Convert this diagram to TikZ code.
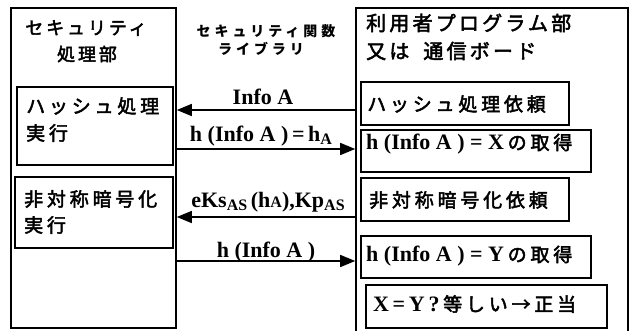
\documentclass[tikz,border=0pt]{standalone}
\usepackage{fontspec}
\setmainfont{Liberation Serif}
\newfontfamily\jp[LetterSpace=20,FakeBold=2.5]{Noto Sans CJK JP}
\newfontfamily\jph[LetterSpace=16,FakeBold=2.5]{Noto Sans CJK JP}
\newfontfamily\jps[LetterSpace=28]{Noto Sans CJK JP}
\usetikzlibrary{arrows.meta}
\newcommand\subs[1]{\raisebox{-0.35ex}{\fontsize{16}{16}\selectfont #1}}
\newcommand\jtail[1]{{\mdseries\jp\fontsize{19}{19}\selectfont #1}}
\begin{document}
\begin{tikzpicture}[x=1pt,y=-1pt,
  bigbox/.style={draw, line width=1.6pt, inner sep=0pt},
  box/.style={draw, line width=1.6pt, inner sep=0pt},
  jtxt/.style={inner sep=0pt, anchor=west, font=\jp\fontsize{19}{19}\selectfont},
  lat/.style={inner sep=0pt, anchor=west, font=\bfseries\fontsize{22}{22}\selectfont},
  lbl/.style={inner sep=0pt, font=\bfseries\fontsize{22}{22}\selectfont},
  hdr/.style={inner sep=0pt, font=\jph\fontsize{18}{18}\selectfont},
  hdrs/.style={inner sep=0pt, font=\jps\bfseries\fontsize{14}{14}\selectfont},
  hdrr/.style={inner sep=0pt, anchor=west, font=\jph\fontsize{20}{20}\selectfont},
  msg/.style={line width=1.5pt, -{Triangle[length=15pt,width=12pt]}}]
\useasboundingbox (0,0) rectangle (631,331);
% big boxes
\node[bigbox, minimum width=165pt, minimum height=320pt] (L) at (93.5,168) {};
\node[bigbox, minimum width=272pt, minimum height=340pt] (R) at (492,178) {};
% headers
\node[hdr] (hl1) at (86,28) {セキュリティ};
\node[hdr] (hl2) at (87,54) {処理部};
\node[hdrs] (hc1) at (266,31) {セキュリティ関数};
\node[hdrs] (hc2) at (261,49) {ライブラリ};
\node[hdrr] (hr1) at (366,23) {利用者プログラム部};
\node[hdrr] (hr2) at (366,51) {又は\kern14pt 通信ボード};
% left inner boxes
\node[box, minimum width=156pt, minimum height=78pt] (LH) at (95,126) {};
\node[jtxt] (LHt1) at (26,106) {ハッシュ処理};
\node[jtxt] (LHt2) at (26,133) {実行};
\node[box, minimum width=158pt, minimum height=71pt] (LA) at (94,212.5) {};
\node[jtxt] (LAt1) at (24,199) {非対称暗号化};
\node[jtxt] (LAt2) at (24,225) {実行};
% right inner boxes
\node[box, minimum width=208pt, minimum height=43pt] (R1) at (465,103.5) {};
\node[jtxt] (R1t) at (367,104) {ハッシュ処理依頼};
\node[box, minimum width=230pt, minimum height=42pt] (R2) at (476,151) {};
\node[lat] (R2t) at (366,144) {h (Info A ) = X\,\jtail{の取得}};
\node[box, minimum width=208pt, minimum height=43pt] (R3) at (465,199.5) {};
\node[jtxt] (R3t) at (369,200) {非対称暗号化依頼};
\node[box, minimum width=230pt, minimum height=42pt] (R4) at (476,257) {};
\node[lat] (R4t) at (366,256) {h (Info A ) = Y\,\jtail{の取得}};
\node[box, minimum width=241pt, minimum height=43pt] (R5) at (486.5,306.5) {};
\node[lat] (R5t) at (373,304) {X\,=\,Y\,?\,\jtail{等しい→正当}};
% messages
\coordinate (y1) at (0,110);
\coordinate (y2) at (0,149);
\coordinate (y3) at (0,217);
\coordinate (y4) at (0,261);
\draw[msg] (R.west |- y1) -- (L.east |- y1);
\draw[msg] (L.east |- y2) -- (R.west |- y2);
\draw[msg] (R.west |- y3) -- (L.east |- y3);
\draw[msg] (L.east |- y4) -- (R.west |- y4);
\node[lbl] (m1) at (263,97) {Info A};
\node[lbl] (m2) at (261,136) {h (Info A )\,=\,h\subs{A}};
\node[lbl] (m3) at (268,202) {eKs\subs{AS}\,(h{\fontsize{16}{16}\selectfont A}),Kp\subs{AS}};
\node[lbl] (m4) at (266,252) {h (Info A )};
\end{tikzpicture}
\end{document}
